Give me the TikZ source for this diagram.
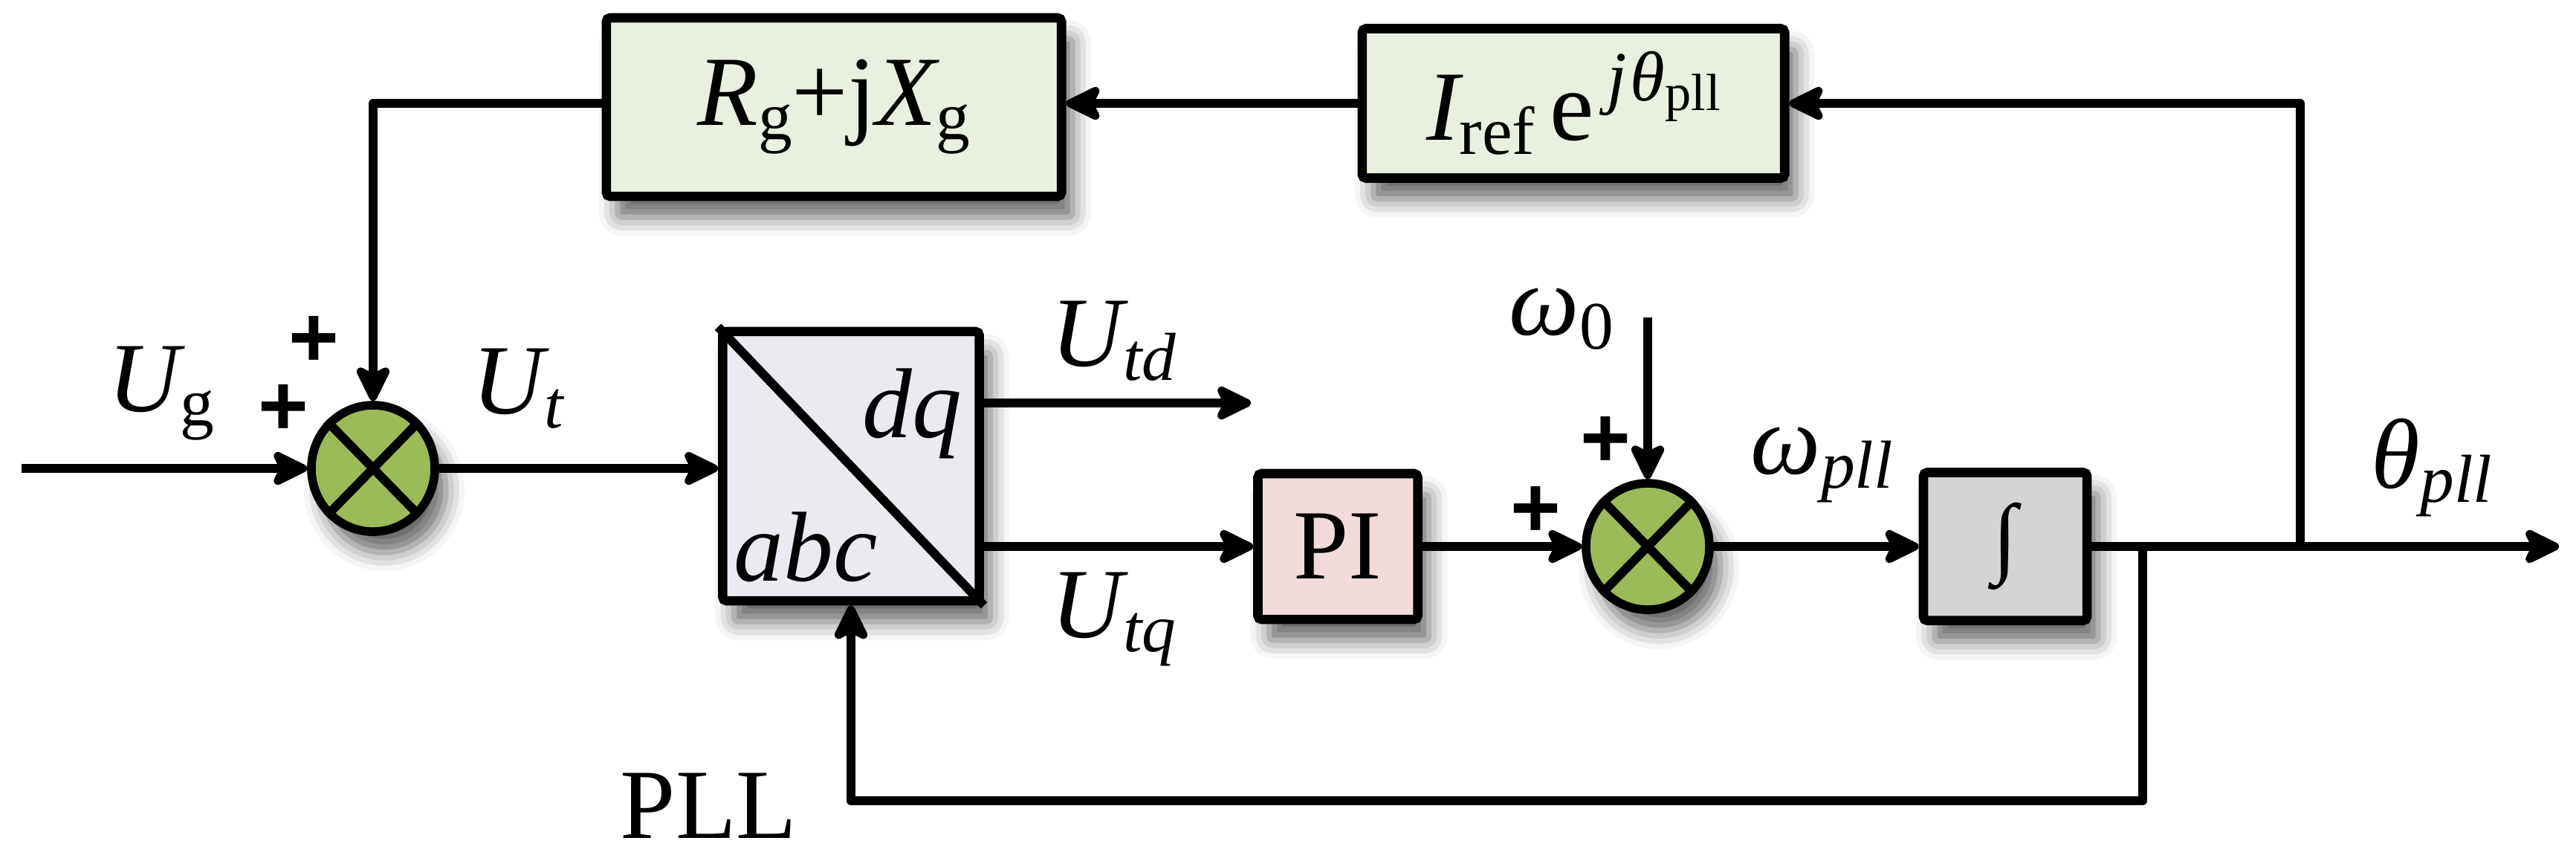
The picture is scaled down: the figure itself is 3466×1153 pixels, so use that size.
\documentclass[tikz,border=0pt]{standalone}
\usepackage{fontspec}
\setmainfont{Liberation Serif}
\newfontfamily\plusfont{Liberation Sans}
\usetikzlibrary{arrows.meta,shadows.blur,shapes.geometric}
\definecolor{boxgreen}{HTML}{EAF0E0}
\definecolor{boxlav}{HTML}{ECEAF1}
\definecolor{boxpink}{HTML}{F2DCDB}
\definecolor{boxgrey}{HTML}{D4D4D4}
\definecolor{sumgreen}{HTML}{9BBB59}
\newcommand{\mainsize}{\fontsize{38}{44}\selectfont}
\newcommand{\subsz}{\fontsize{26}{30}\selectfont}
\newcommand{\lsub}[1]{\raisebox{-0.19cm}{\subsz #1}}
\tikzset{
  myshadow/.style={blur shadow={shadow xshift=0.15cm, shadow yshift=-0.28cm, shadow blur radius=0.25cm, shadow opacity=60}},
  blk/.style={draw, line width=3.6pt, rounded corners=1.5pt, inner sep=0pt, font=\mainsize, myshadow},
  sumnode/.style={ellipse, draw, line width=3.3pt, fill=sumgreen, minimum width=1.66cm, minimum height=1.70cm, inner sep=0pt, myshadow},
  wire/.style={line width=3.4pt, line join=round},
  arr/.style={wire, -{Stealth[length=0.58cm,width=0.56cm,inset=0.14cm,round]}},
  lbl/.style={font=\mainsize, inner sep=0pt, anchor=base west},
  plus/.style={font={\plusfont\bfseries\fontsize{33}{33}\selectfont}, inner sep=0pt},
}
\begin{document}
\begin{tikzpicture}[x=0.01cm, y=-0.01cm]
\useasboundingbox (0,0) rectangle (3466,1153);

% blocks
\node[blk, fill=boxgreen, minimum width=6.12cm, minimum height=2.40cm] (Rg) at (1122,144)
  {{\itshape R}\lsub{g}+j{\itshape X}\lsub{g}};
\node[blk, fill=boxgreen, minimum width=5.68cm, minimum height=2.01cm] (Iref) at (2117,139)
  {{\itshape I}\lsub{ref}\hspace{0.2cm}e\hspace{0.18cm}\raisebox{0.53cm}{\fontsize{27}{30}\selectfont\itshape j\kern0.05cm θ\raisebox{-0.13cm}{\fontsize{20}{24}\selectfont\upshape pll}}};
\node[blk, fill=boxlav, minimum width=3.45cm, minimum height=3.62cm] (dq) at (1145,627) {};
\node[blk, fill=boxpink, minimum width=2.15cm, minimum height=1.96cm] (PI) at (1800,735) {PI};
\node[blk, fill=boxgrey, minimum width=2.20cm, minimum height=1.99cm] (int) at (2698,735)
  {\fontsize{34}{40}\selectfont\raisebox{-0.1cm}{∫}};

% summing junctions
\node[sumnode] (s1) at (502,630) {};
\node[sumnode] (s2) at (2217,735) {};
\draw[wire] (s1.north west) -- (s1.south east) (s1.north east) -- (s1.south west);
\draw[wire] (s2.north west) -- (s2.south east) (s2.north east) -- (s2.south west);

% dq box diagonal and texts
\draw[line width=3.4pt] (dq.north west) -- (dq.south east);
\node[lbl, font=\mainsize\itshape] (tdq) at (1160,588) {dq};
\node[lbl, font=\mainsize\itshape] (tabc) at (987,781) {abc};

% coordinates
\coordinate (in) at (29,630);
\coordinate (utd) at (1683,542);
\coordinate (w0) at (2217,427);
\coordinate (out) at (3443,735);
\coordinate (fbc) at (2883,1077);
\coordinate (tp) at (3095,139);

% connectors
\draw[arr] (in) -- (s1.west);
\draw[arr] (s1.east) -- (s1.east -| dq.west);
\draw[arr] (dq.east |- utd) -- (utd);
\draw[arr] (dq.east |- PI.west) -- (PI.west);
\draw[arr] (PI.east) -- (s2.west);
\draw[arr] (w0) -- (s2.north);
\draw[arr] (s2.east) -- (int.west);
\draw[arr] (int.east) -- (out);
\draw[arr] (fbc |- int.east) -- (fbc) -| (dq.south);
\draw[arr] (tp |- int.east) -- (tp) -- (Iref.east);
\draw[arr] (Iref.west) -- (Iref.west -| Rg.east);
\draw[arr] (Rg.west |- Iref.west) -| (s1.north);

% labels
\node[lbl] (lUg) at (145,553) {{\itshape U}\lsub{g}};
\node[lbl] (lUt) at (635,556) {{\itshape U\lsub{t}}};
\node[lbl] (lUtd) at (1414,492) {{\itshape U\lsub{td}}};
\node[lbl] (lUtq) at (1414,857) {{\itshape U\lsub{tq}}};
\node[lbl] (lw0) at (2030,450) {{\itshape ω}\lsub{0}};
\node[lbl] (lwpll) at (2355,637) {{\itshape ω\lsub{pll}}};
\node[lbl] (ltheta) at (3190,656) {{\itshape θ\lsub{pll}}};
\node[lbl] (lPLL) at (834,1127) {PLL};

% signs
\node[plus] (p1) at (422,459) {+};
\node[plus] (p2) at (381,551) {+};
\node[plus] (p3) at (2160,594) {+};
\node[plus] (p4) at (2066,688) {+};
\end{tikzpicture}
\end{document}
